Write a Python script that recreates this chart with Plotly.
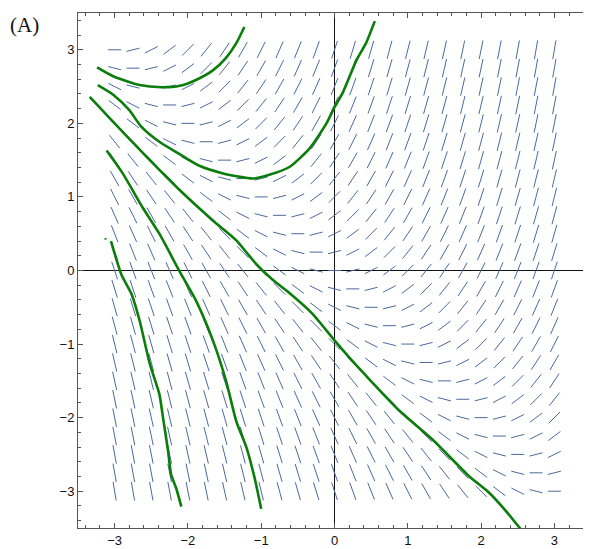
import numpy as np
import plotly.graph_objects as go

# Slope field grid for dy/dx = x + y
grid_x = [-3.0, -2.75, -2.5, -2.25, -2.0, -1.75, -1.5, -1.25, -1.0, -0.75, -0.5, -0.25, 0.0,
          0.25, 0.5, 0.75, 1.0, 1.25, 1.5, 1.75, 2.0, 2.25, 2.5, 2.75, 3.0]
grid_y = list(grid_x)

# Hand-drawn solution curves
c1_x = [-3.24, -3.02, -2.66, -2.36, -2.11, -1.89, -1.66, -1.48, -1.34, -1.23]
c1_y = [2.76, 2.64, 2.52, 2.49, 2.51, 2.59, 2.72, 2.89, 3.09, 3.31]

c2_x = [-3.23, -3.02, -2.80, -2.64, -2.39, -2.16, -1.86, -1.52, -1.11, -0.89, -0.61, -0.34, -0.11, 0.0, 0.11, 0.30, 0.43, 0.55]
c2_y = [2.52, 2.39, 2.18, 1.96, 1.75, 1.61, 1.43, 1.32, 1.25, 1.30, 1.41, 1.66, 2.00, 2.22, 2.41, 2.86, 3.09, 3.39]

c3_x = [-3.34, -3.02, -2.57, -2.11, -1.66, -1.34, -1.07, -0.84, -0.66, -0.30, 0.0, 0.20, 0.43, 0.89, 1.34, 1.84, 2.11, 2.34, 2.56]
c3_y = [2.36, 2.02, 1.55, 1.09, 0.68, 0.41, 0.09, -0.13, -0.27, -0.59, -0.95, -1.18, -1.43, -1.91, -2.30, -2.80, -3.02, -3.27, -3.54]

c4_x = [-3.11, -2.89, -2.62, -2.39, -2.11, -1.89, -1.66, -1.48, -1.34, -1.20, -1.09, -1.00]
c4_y = [1.63, 1.32, 0.86, 0.50, -0.02, -0.41, -0.95, -1.50, -2.05, -2.41, -2.82, -3.24]

c5_x = [-3.05, -2.91, -2.77, -2.66, -2.52, -2.39, -2.34, -2.27, -2.23, -2.16, -2.09]
c5_y = [0.40, -0.05, -0.32, -0.68, -1.27, -1.68, -2.00, -2.46, -2.77, -2.96, -3.21]

dot_x = [-3.14, -3.11]
dot_y = [0.43, 0.43]

tick_vals = [-3, -2, -1, 0, 1, 2, 3]
tick_text = ["\u22123", "\u22122", "\u22121", "0", "1", "2", "3"]

PX = 73.3  # approx pixels per unit
sx, sy = [], []
for xv in grid_x:
    for yv in grid_y:
        s = xv + yv
        m = np.hypot(1.0, s)
        Lpx = 19.0 - 6.0 / m ** 2
        h = Lpx / PX / 2.0
        ux, uy = 1.0 / m, s / m
        sx += [xv - h * ux, xv + h * ux, None]
        sy += [yv - h * uy, yv + h * uy, None]

fig = go.Figure()
fig.add_trace(go.Scatter(x=sx, y=sy, mode="lines",
                         line=dict(color="#4a6a9e", width=1), hoverinfo="skip"))
green = "#0a7d0a"
for cx, cy in [(c1_x, c1_y), (c2_x, c2_y), (c3_x, c3_y), (c4_x, c4_y), (c5_x, c5_y)]:
    fig.add_trace(go.Scatter(x=cx, y=cy, mode="lines",
                             line=dict(color=green, width=2.6, shape="spline", smoothing=0.6)))
fig.add_trace(go.Scatter(x=dot_x, y=dot_y, mode="lines", line=dict(color=green, width=1.5)))

axis_common = dict(
    range=[-3.5, 3.5], tickvals=tick_vals, ticktext=tick_text,
    ticks="inside", ticklen=5, tickwidth=1, tickcolor="#555",
    showline=True, linecolor="#555", linewidth=1, mirror="ticks",
    showgrid=False, zeroline=True, zerolinecolor="#111", zerolinewidth=1,
    automargin=False,
    minor=dict(dtick=0.2, tick0=0, ticks="inside", ticklen=3, tickcolor="#555", showgrid=False),
    tickfont=dict(family="Liberation Sans, Arial, sans-serif", size=13, color="#111"),
)
fig.update_xaxes(**axis_common)
fig.update_yaxes(**axis_common)

fig.add_annotation(text="(A)", xref="paper", yref="paper", x=-0.1365, y=0.976,
                   xanchor="left", yanchor="middle", showarrow=False,
                   font=dict(family="Liberation Serif, Times New Roman, serif", size=21, color="#111"))

# page has an 8px body margin, so the figure is offset by (8, 8)
fig.update_layout(
    width=583, height=541, showlegend=False,
    plot_bgcolor="white", paper_bgcolor="white",
    margin=dict(l=70, r=0, t=5, b=21),
)
fig.write_html("out.html")
